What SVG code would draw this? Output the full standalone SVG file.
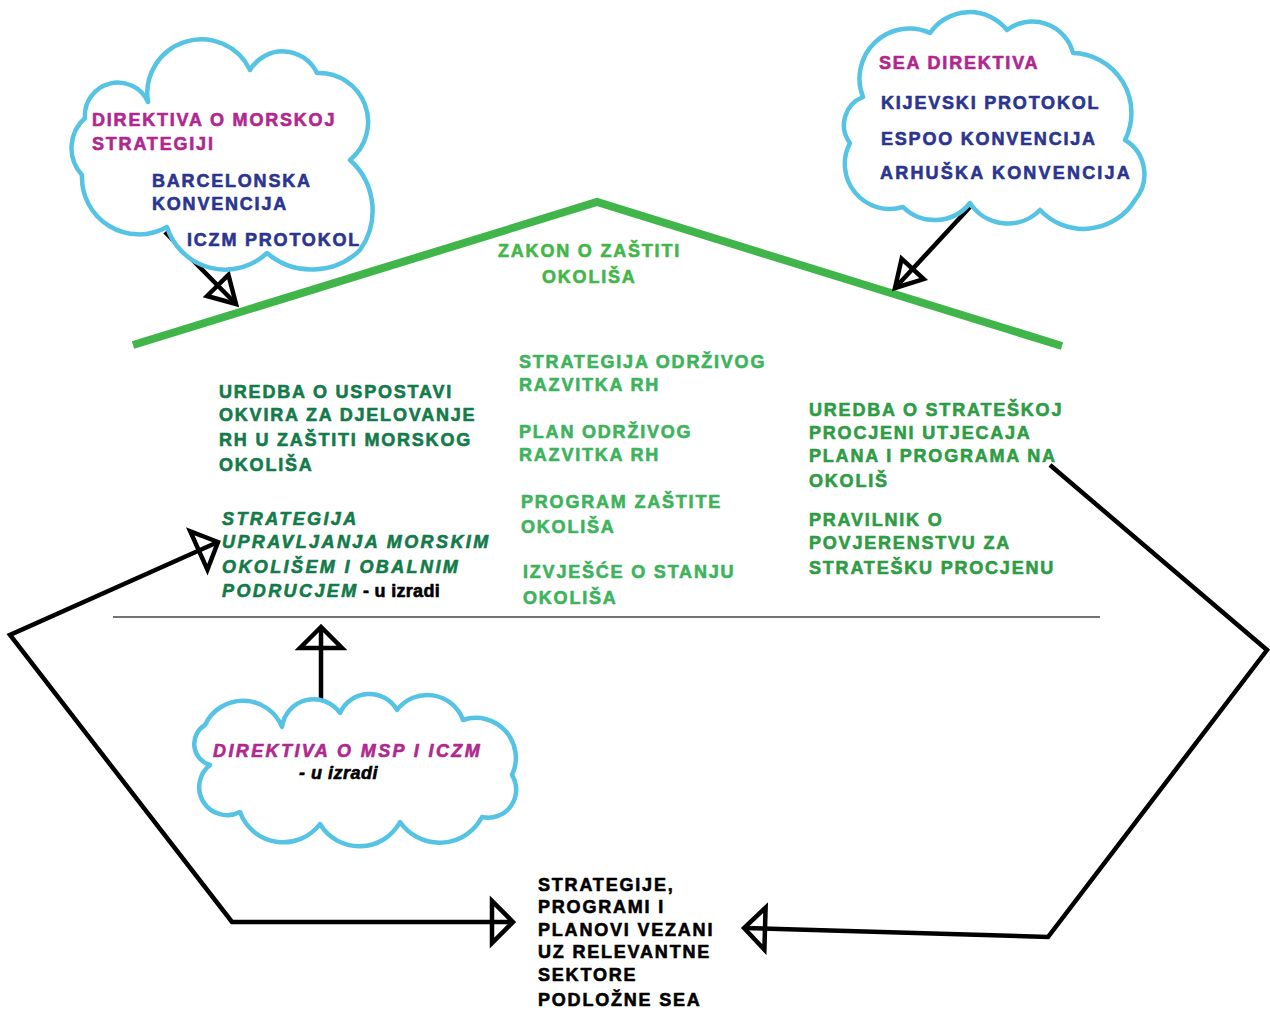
<svg xmlns="http://www.w3.org/2000/svg" width="1270" height="1010" viewBox="0 0 1270 1010">
<style>
.t{font-family:"Liberation Sans",Arial,sans-serif;font-weight:bold;font-size:18px;letter-spacing:1.8px;stroke-width:0.6px;stroke-linejoin:round}
.i{font-style:italic;letter-spacing:2.4px}
.mag{fill:#b0288f;stroke:#b0288f}
.blu{fill:#2b3590;stroke:#2b3590}
.dg{fill:#137a4a;stroke:#137a4a}
.lg{fill:#3db35c;stroke:#3db35c}
.rg{fill:#2e9c44;stroke:#2e9c44}
.zg{fill:#44b649;stroke:#44b649}
.blk{fill:#000;stroke:#000}
.cloud{fill:#fff;stroke:#55c3e3;stroke-width:4.5;stroke-linejoin:round}
.con{fill:none;stroke:#000;stroke-width:4.5;stroke-linejoin:miter}
</style>
<defs>
<marker id="tri" viewBox="-26 -24 30 48" refX="0" refY="0" markerWidth="30" markerHeight="48" markerUnits="userSpaceOnUse" orient="auto-start-reverse" overflow="visible">
<path d="M0,0 L-21,-21 L-21,21 Z" fill="none" stroke="#000" stroke-width="4.5"/>
</marker>
<marker id="triS" viewBox="-30 -20 34 40" refX="0" refY="0" markerWidth="34" markerHeight="40" markerUnits="userSpaceOnUse" orient="auto" overflow="visible">
<path d="M0,0 L-26,-15 L-26,15 Z" fill="none" stroke="#000" stroke-width="4.5"/>
</marker>
</defs>
<rect width="1270" height="1010" fill="#fff"/>

<g id="roof">
<polyline points="133,345 597,202 1062,346" fill="none" stroke="#40b54a" stroke-width="8"/>
<text class="t zg" x="498" y="257">ZAKON O ZAŠTITI</text>
<text class="t zg" x="542" y="283">OKOLIŠA</text>
</g>

<g id="divider">
<line x1="113" y1="617" x2="1100" y2="617" stroke="#444" stroke-width="1.5"/>
</g>

<g id="connectors">
<line class="con" x1="165" y1="232" x2="236" y2="304" marker-end="url(#triS)"/>
<line class="con" x1="970" y1="207" x2="895" y2="288" marker-end="url(#triS)"/>
<line class="con" x1="321" y1="703" x2="321" y2="627" marker-end="url(#tri)"/>
<polyline class="con" points="218,542 10,635 232,922 513,922" marker-start="url(#tri)" marker-end="url(#tri)"/>
<polyline class="con" points="1050,465 1267,650 1048,937 744,928" marker-end="url(#tri)"/>
</g>

<g id="cloud-left">
<path class="cloud" d="M82,175 A40,40 0 0 1 85,118 A33,33 0 0 1 148,102 A54,54 0 0 1 250,70 A38,38 0 0 1 317,73 A49,49 0 0 1 350,160 A68,68 0 0 1 360,250 A69,69 0 0 1 267,253 A61,61 0 0 1 167,227 A57,57 0 0 1 82,175 Z"/>
<text class="t mag" x="92" y="126">DIREKTIVA O MORSKOJ</text>
<text class="t mag" x="92" y="150">STRATEGIJI</text>
<text class="t blu" x="152" y="187">BARCELONSKA</text>
<text class="t blu" x="152" y="210">KONVENCIJA</text>
<text class="t blu" x="187" y="246">ICZM PROTOKOL</text>
</g>

<g id="cloud-right">
<path class="cloud" d="M863,97 A50,50 0 0 1 930,33 A48,48 0 0 1 1007,30 A42,42 0 0 1 1073,53 A60,60 0 0 1 1125,140 A40,40 0 0 1 1135,200 A60,60 0 0 1 1040,210 A45,45 0 0 1 970,203 A45,45 0 0 1 903,207 A45,45 0 0 1 850,143 A30,30 0 0 1 863,97 Z"/>
<text class="t mag" x="879" y="69">SEA DIREKTIVA</text>
<text class="t blu" x="881" y="109">KIJEVSKI PROTOKOL</text>
<text class="t blu" x="881" y="145">ESPOO KONVENCIJA</text>
<text class="t blu" x="880" y="179" style="letter-spacing:2.2px">ARHUŠKA KONVENCIJA</text>
</g>

<g id="cloud-bottom">
<path class="cloud" d="M205,725 A42,42 0 0 1 282,727 A32,32 0 0 1 340,713 A32,32 0 0 1 397,710 A38,38 0 0 1 463,720 A40,40 0 0 1 512,775 A28,28 0 0 1 482,817 A48,48 0 0 1 400,822 A46,46 0 0 1 320,824 A46,46 0 0 1 240,812 A28,28 0 0 1 210,765 A22,22 0 0 1 205,725 Z"/>
<text class="t i mag" x="213" y="757">DIREKTIVA O MSP I ICZM</text>
<text class="t i blk" x="299" y="779" style="letter-spacing:0.5px">- u izradi</text>
</g>

<g id="left-column">
<text class="t dg" x="219" y="398">UREDBA O USPOSTAVI</text>
<text class="t dg" x="219" y="421">OKVIRA ZA DJELOVANJE</text>
<text class="t dg" x="219" y="446">RH U ZAŠTITI MORSKOG</text>
<text class="t dg" x="219" y="471">OKOLIŠA</text>
</g>

<g id="strategija-upravljanja">
<text class="t i dg" x="222" y="525">STRATEGIJA</text>
<text class="t i dg" x="222" y="548">UPRAVLJANJA MORSKIM</text>
<text class="t i dg" x="222" y="573">OKOLIŠEM I OBALNIM</text>
<text class="t i dg" x="222" y="597">PODRUCJEM</text>
<text class="t blk" x="363" y="597" style="letter-spacing:0.3px">- u izradi</text>
</g>

<g id="middle-column">
<text class="t lg" x="519" y="368">STRATEGIJA ODRŽIVOG</text>
<text class="t lg" x="519" y="391">RAZVITKA RH</text>
<text class="t lg" x="519" y="438">PLAN ODRŽIVOG</text>
<text class="t lg" x="519" y="461">RAZVITKA RH</text>
<text class="t lg" x="521" y="508">PROGRAM ZAŠTITE</text>
<text class="t lg" x="521" y="533">OKOLIŠA</text>
<text class="t lg" x="523" y="578">IZVJEŠĆE O STANJU</text>
<text class="t lg" x="523" y="604">OKOLIŠA</text>
</g>

<g id="right-column">
<text class="t rg" x="809" y="416">UREDBA O STRATEŠKOJ</text>
<text class="t rg" x="809" y="439">PROCJENI UTJECAJA</text>
<text class="t rg" x="809" y="462">PLANA I PROGRAMA NA</text>
<text class="t rg" x="809" y="487">OKOLIŠ</text>
<text class="t rg" x="809" y="526">PRAVILNIK O</text>
<text class="t rg" x="809" y="549">POVJERENSTVU ZA</text>
<text class="t rg" x="809" y="574">STRATEŠKU PROCJENU</text>
</g>

<g id="sektori">
<text class="t blk" x="538" y="891">STRATEGIJE,</text>
<text class="t blk" x="538" y="913">PROGRAMI I</text>
<text class="t blk" x="538" y="936">PLANOVI VEZANI</text>
<text class="t blk" x="538" y="958">UZ RELEVANTNE</text>
<text class="t blk" x="538" y="981">SEKTORE</text>
<text class="t blk" x="538" y="1006">PODLOŽNE SEA</text>
</g>
</svg>
